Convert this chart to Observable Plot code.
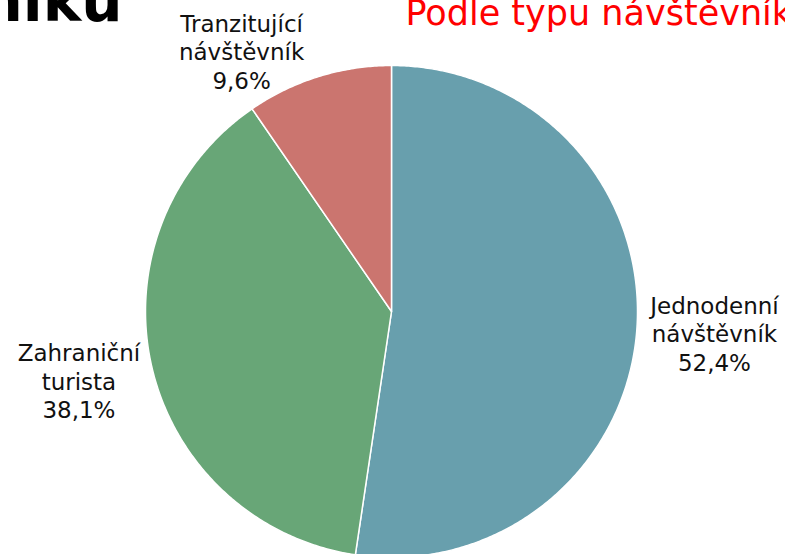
<!DOCTYPE html>
<html>
<head>
<meta charset="utf-8">
<script src="https://cdn.jsdelivr.net/npm/d3@7"></script>
<script src="https://cdn.jsdelivr.net/npm/@observablehq/plot@0.6"></script>
<style>
  html, body { margin: 0; padding: 0; background: #fff; overflow: hidden; }
  svg { display: block; }
</style>
</head>
<body>
<div id="chart"></div>
<script>
// ---- data ----
const categories = ["Jednodenní návštěvník", "Zahraniční turista", "Tranzitující návštěvník"];
const shares = [52.4, 38.1, 9.6];
const titleText = "návštěvníků";
const subtitleText = "Podle typu návštěvníka";

// ---- styling / layout ----
const colors = ["#689FAD", "#68A677", "#CB756F"];
const labelNudge = {  // pixel nudges from the radial anchor
  "Jednodenní návštěvník": [4, -2],
  "Zahraniční turista": [-1, -3],
  "Tranzitující návštěvník": [-55, 45]
};
const cx = 391, cy = 311, R = 246;

// ---- build slices from the data ----
const total = d3.sum(shares);
let acc = 0;
const slices = categories.map((c, i) => {
  const a0 = acc / total * 2 * Math.PI;
  acc += shares[i];
  const a1 = acc / total * 2 * Math.PI;
  return {category: c, value: shares[i], a0, a1, mid: (a0 + a1) / 2};
});
const points = [];
for (const s of slices) {
  points.push({category: s.category, x: 0, y: 0});
  const n = Math.max(2, Math.ceil((s.a1 - s.a0) / (Math.PI / 360)));
  for (let k = 0; k <= n; k++) {
    const a = s.a0 + (s.a1 - s.a0) * k / n;
    points.push({category: s.category, x: Math.sin(a), y: Math.cos(a)});
  }
}
const fmt = v => d3.format(".1f")(v).replace(".", ",") + "%";
const labels = slices.map(s => ({
  text: s.category.replace(" ", "\n") + "\n" + fmt(s.value),
  x: 1.3 * Math.sin(s.mid),
  y: 1.3 * Math.cos(s.mid),
  dx: labelNudge[s.category][0],
  dy: labelNudge[s.category][1]
}));

const chart = Plot.plot({
  width: 785,
  height: 554,
  margin: 0,
  style: {background: "white", fontFamily: "DejaVu Sans"},
  x: {domain: [-1, 1], range: [cx - R, cx + R], axis: null},
  y: {domain: [-1, 1], range: [cy + R, cy - R], axis: null},
  color: {domain: categories, range: colors},
  marks: [
    Plot.line(points, {
      x: "x", y: "y", z: "category", fill: "category",
      stroke: "white", strokeWidth: 1.5, curve: "linear-closed"
    }),
    ...labels.map(l => Plot.text([l], {
      x: "x", y: "y", text: "text", dx: l.dx, dy: l.dy,
      fontSize: 23, lineHeight: 1.24, lineAnchor: "middle",
      fill: "#111", fontFamily: "DejaVu Sans"
    })),
    Plot.text([titleText], {
      frameAnchor: "top-left", text: d => d, textAnchor: "end",
      lineAnchor: "middle", dx: 122, dy: 2,
      fontSize: 58, fontWeight: "bold", fill: "#000", fontFamily: "DejaVu Sans"
    }),
    Plot.text([subtitleText], {
      frameAnchor: "top-left", text: d => d, textAnchor: "start",
      lineAnchor: "middle", dx: 405, dy: 13.3,
      fontSize: 35, fill: "#ff0000", fontFamily: "DejaVu Sans"
    })
  ]
});
document.getElementById("chart").appendChild(chart);
</script>
</body>
</html>
